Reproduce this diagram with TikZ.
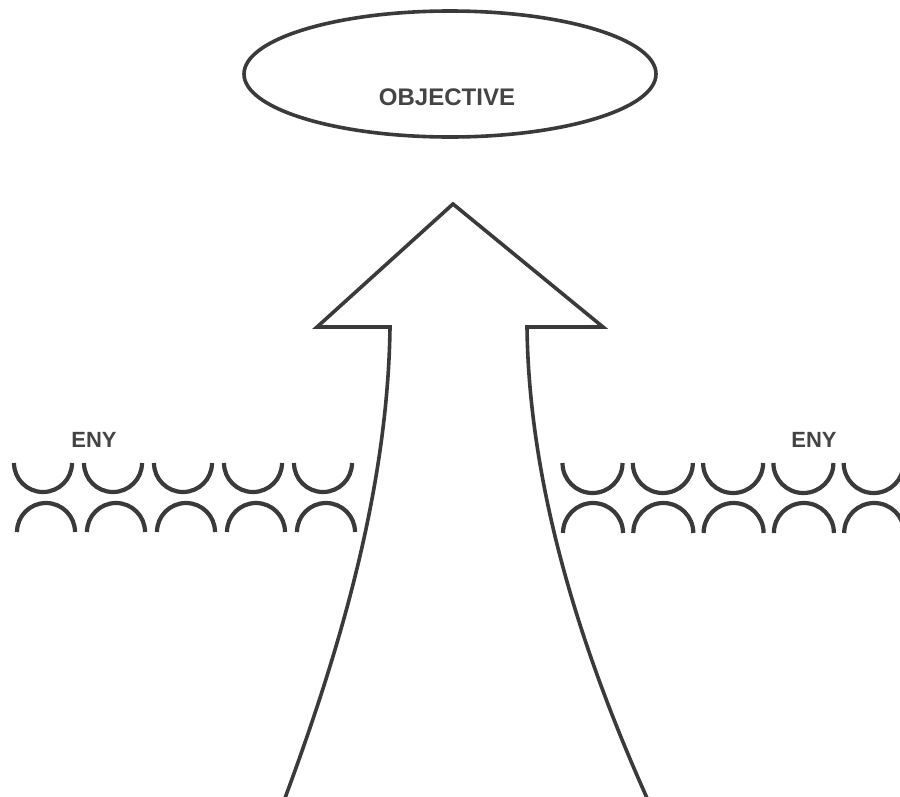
\documentclass[tikz,border=0pt]{standalone}
\usepackage{fontspec}
\setmainfont{Liberation Sans}
\usetikzlibrary{shapes.geometric}
\definecolor{ink}{HTML}{3A3A3A}
\definecolor{txt}{HTML}{444444}
\tikzset{
  outline/.style={draw=ink, line width=3.6pt},
  arcline/.style={draw=ink, line width=4.2pt},
  lbl/.style={text=txt, font=\fontsize{22}{26}\selectfont\bfseries, inner sep=0pt},
}
\begin{document}
\begin{tikzpicture}[x=1pt,y=-1pt]
\useasboundingbox (0,0) rectangle (900,796);
\fill[white] (0,0) rectangle (900,796);
% objective ellipse
\node[ellipse, outline, minimum width=412pt, minimum height=126pt, inner sep=0pt] (obj) at (450,74) {};
\node[lbl, font=\fontsize{24}{28}\selectfont\bfseries] (objtxt) at (447,97) {OBJECTIVE};
% arrow
\coordinate (bl) at (285,798);
\coordinate (br) at (647,798);
\coordinate (sl) at (390,327);
\coordinate (sr) at (527,327);
\coordinate (hl) at (317,327);
\coordinate (hr) at (603,327);
\coordinate (tip) at (453,204);
\draw[outline, line join=miter] (bl) .. controls (338,655) and (388,490) .. (sl)
  -- (hl) -- (tip) -- (hr) -- (sr)
  .. controls (529,490) and (583,655) .. (br);
% labels
\node[lbl] (enyl) at (94,440) {ENY};
\node[lbl] (enyr) at (814,440) {ENY};
% left obstacle arcs
\foreach \i in {0,...,4}{
  \draw[arcline] ({43+70*\i-29},463) arc[start angle=180, end angle=0, radius=29];
  \draw[arcline] ({46+70*\i-29},532) arc[start angle=180, end angle=360, radius=29];
}
% right obstacle arcs
\foreach \i in {0,...,4}{
  \draw[arcline] ({592.5+70.3*\i-30},463) arc[start angle=180, end angle=0, radius=30];
  \draw[arcline] ({593+70.3*\i-30},533) arc[start angle=180, end angle=360, radius=30];
}
\end{tikzpicture}
\end{document}
